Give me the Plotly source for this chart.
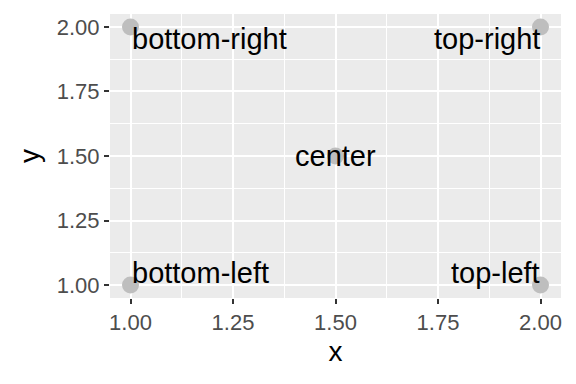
import plotly.graph_objects as go

# data
x_vals = [1.0, 1.0, 1.5, 2.0, 2.0]
y_vals = [1.0, 2.0, 1.5, 1.0, 2.0]
labels = ["bottom-left", "bottom-right", "center", "top-left", "top-right"]
hjust = [0, 0, 0.5, 1, 1]
vjust = [0, 1, 0.5, 0, 1]
tick_vals = [1.00, 1.25, 1.50, 1.75, 2.00]

FONT = "Liberation Sans, Arial, Helvetica, sans-serif"

fig = go.Figure()
fig.add_trace(go.Scatter(
    x=x_vals, y=y_vals, mode="markers",
    marker=dict(size=17, color="rgb(190,190,190)", line=dict(width=0)),
    showlegend=False, hoverinfo="skip",
))

xa = {0: "left", 0.5: "center", 1: "right"}
ya = {0: "bottom", 0.5: "middle", 1: "top"}
ysh = {0: -5, 0.5: 0, 1: 5}
for xv, yv, lab, hj, vj in zip(x_vals, y_vals, labels, hjust, vjust):
    fig.add_annotation(
        x=xv, y=yv, text=lab, showarrow=False,
        xanchor=xa[hj], yanchor=ya[vj], yshift=ysh[vj],
        font=dict(family=FONT, size=29, color="black"),
        borderpad=0,
    )

axis_common = dict(
    range=[0.95, 2.05],
    tickvals=tick_vals,
    tickformat=".2f",
    showgrid=True, gridcolor="white", gridwidth=2,
    zeroline=False, showline=False,
    ticks="outside", ticklen=5, tickwidth=2, tickcolor="#333333",
    tickfont=dict(family=FONT, size=22, color="#4D4D4D"),
    minor=dict(dtick=0.125, tick0=1.0, showgrid=True, gridcolor="white", gridwidth=1, ticks=""),
)

fig.update_layout(
    width=576, height=384,
    margin=dict(l=110, r=15, t=14, b=86, autoexpand=False),
    paper_bgcolor="white", plot_bgcolor="#EBEBEB",
    font=dict(family=FONT),
    xaxis=dict(**axis_common, title=dict(text="x", font=dict(family=FONT, size=28, color="black"), standoff=6)),
    yaxis=dict(**axis_common, title=dict(text="y", font=dict(family=FONT, size=28, color="black"), standoff=8)),
)

fig.write_html("out.html")
